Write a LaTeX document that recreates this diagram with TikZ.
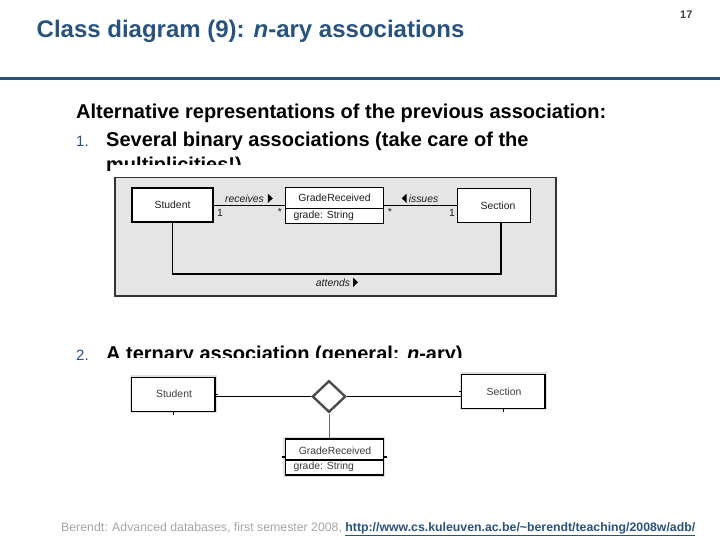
\documentclass[tikz,border=0pt]{standalone}
\usepackage{fontspec}
\setmainfont{Liberation Sans}
\usetikzlibrary{shapes.geometric}
\definecolor{titleblue}{RGB}{40,82,128}
\definecolor{boxgray}{RGB}{229,229,229}
\definecolor{footgray}{RGB}{166,166,166}
\definecolor{diagtext}{RGB}{30,30,30}
\definecolor{diagtexttwo}{RGB}{60,60,60}
\begin{document}
\begin{tikzpicture}[x=1pt,y=-1pt,
  txt/.style={inner sep=0pt, anchor=base west},
  bodyfont/.style={font=\fontsize{20}{24}\selectfont\bfseries},
  numfont/.style={font=\fontsize{15}{18}\selectfont, text=titleblue},
  umltext/.style={inner sep=0pt, font=\fontsize{10.4}{12}\selectfont, text=diagtext},
  umltexttwo/.style={umltext, text=diagtexttwo},
  cls/.style={draw=black, line width=1.1pt, fill=white, inner sep=0pt, rectangle},
  clstwo/.style={cls, preaction={draw=black!12, line width=4pt}},
  conn/.style={draw=black, line width=0.8pt},
  tick/.style={draw=black, line width=1.4pt},
  tri/.style={fill=black}
]
\useasboundingbox (0,0) rectangle (720,540);
\fill[white] (0,0) rectangle (720,540);

% header
\node[txt, text=titleblue, font=\fontsize{24}{28}\selectfont\bfseries] (title) at (36.5,37.3) {Class diagram (9): \textit{n}-ary associations};
\node[txt, text=black!75, font=\fontsize{11}{13}\selectfont\bfseries] (page) at (680,18.5) {17};
\fill[titleblue] (0,76.6) rectangle (720,79.8);

% body text
\node[txt, bodyfont] (intro) at (76,119) {Alternative representations of the previous association:};
\node[txt, numfont] (n1) at (76,147) {1.};
\node[txt, bodyfont] (l1) at (106,147) {Several binary associations (take care of the};
\node[txt, bodyfont] (l1b) at (106,171.5) {multiplicities!)};
\fill[white] (113,165.5) rectangle (560,177.5);

% ---------- diagram 1 ----------
\draw[line width=1.2pt, draw=black!80, fill=boxgray] (115,177.5) rectangle (556,296);

\node[cls, minimum width=81pt, minimum height=34pt] (st1) at (172.5,205) {};
\node[umltext] (st1t) at (172.5,205) {Student};

\node[cls, minimum width=97.6pt, minimum height=36pt] (gr1) at (334.5,205.3) {};
\draw[line width=1.1pt] ([yshift=-3pt]gr1.west) -- ([yshift=-3pt]gr1.east);
\node[umltext] (gr1n) at (334.5,198) {GradeReceived};
\node[umltext, anchor=west] (gr1a) at (293.3,216) {grade: String};

\node[cls, minimum width=72.3pt, minimum height=34pt] (sec1) at (494,205.3) {};
\node[umltext] (sec1t) at (498,205.3) {Section};

\draw[conn] (st1.east |- 0,205) -- (gr1.west |- 0,205);
\draw[conn] (gr1.east |- 0,205) -- (sec1.west |- 0,205);
\coordinate (attmid) at (335,274);
\draw[conn, line width=1.4pt] (st1.south) |- (attmid) -| ([xshift=7pt]sec1.south);

\node[umltext, font=\fontsize{10.4}{12}\selectfont\itshape] (rec) at (244.5,198.3) {receives};
\fill[tri] (267.8,193.6) -- (272.8,198.3) -- (267.8,203) -- cycle;
\node[umltext, font=\fontsize{10.4}{12}\selectfont\itshape] (iss) at (423.5,198.3) {issues};
\fill[tri] (406.7,193.6) -- (401.7,198.3) -- (406.7,203) -- cycle;
\node[umltext, font=\fontsize{10.4}{12}\selectfont\itshape] (att) at (333,282.3) {attends};
\fill[tri] (353,277.6) -- (358,282.3) -- (353,287) -- cycle;

\node[umltext] (m1) at (220,213.3) {1};
\node[umltext] (m2) at (280,211.7) {*};
\node[umltext] (m3) at (390,212) {*};
\node[umltext] (m4) at (452,213.3) {1};

% ---------- item 2 ----------
\node[txt, numfont] (n2) at (76,360.5) {2.};
\node[txt, bodyfont] (l2) at (106,360.5) {A ternary association (general: \textit{n}-ary)};
\fill[white] (100,358.3) rectangle (560,492);

% ---------- diagram 2 ----------
\node[clstwo, minimum width=83.3pt, minimum height=33.7pt] (st2) at (173.3,394.2) {};
\node[umltexttwo] (st2t) at (174,394) {Student};

\node[clstwo, minimum width=83.3pt, minimum height=34.3pt] (sec2) at (503.3,391.2) {};
\node[umltexttwo] (sec2t) at (504,391.3) {Section};

\node[clstwo, minimum width=98.3pt, minimum height=36pt] (gr2) at (334.2,457) {};
\draw[line width=1.1pt] ([yshift=-3pt]gr2.west) -- ([yshift=-3pt]gr2.east);
\node[umltexttwo] (gr2n) at (335,450.5) {GradeReceived};
\node[umltexttwo, anchor=west] (gr2a) at (293.3,467.3) {grade: String};

\node[diamond, draw=black!70, line width=2.4pt, fill=white, inner sep=0pt,
      minimum width=33.4pt, minimum height=31.6pt] (dia) at (329,396.5) {};

\draw[conn] (dia.west -| st2.east) -- (dia.west);
\draw[conn] (dia.east) -- (dia.east -| sec2.west);
\draw[conn, draw=black!60] (dia.south) -- (dia.south |- gr2.north);

\draw[tick] (st2.south) -- ++(0,3);
\draw[tick] (st2.east) -- ++(2.5,0);
\draw[tick] (sec2.south) -- ++(0,3);
\draw[tick] (sec2.west) -- ++(-2.5,0);
\draw[tick] (gr2.west) -- ++(-3,0);
\draw[tick] (gr2.east) -- ++(3,0);

% footer
\node[txt, text=footgray, font=\fontsize{12.3}{14}\selectfont] (foot) at (61,531) {Berendt: Advanced databases, first semester 2008, \textcolor{titleblue}{\bfseries\underline{http://www.cs.kuleuven.ac.be/\textasciitilde berendt/teaching/2008w/adb/}}};
\end{tikzpicture}
\end{document}
